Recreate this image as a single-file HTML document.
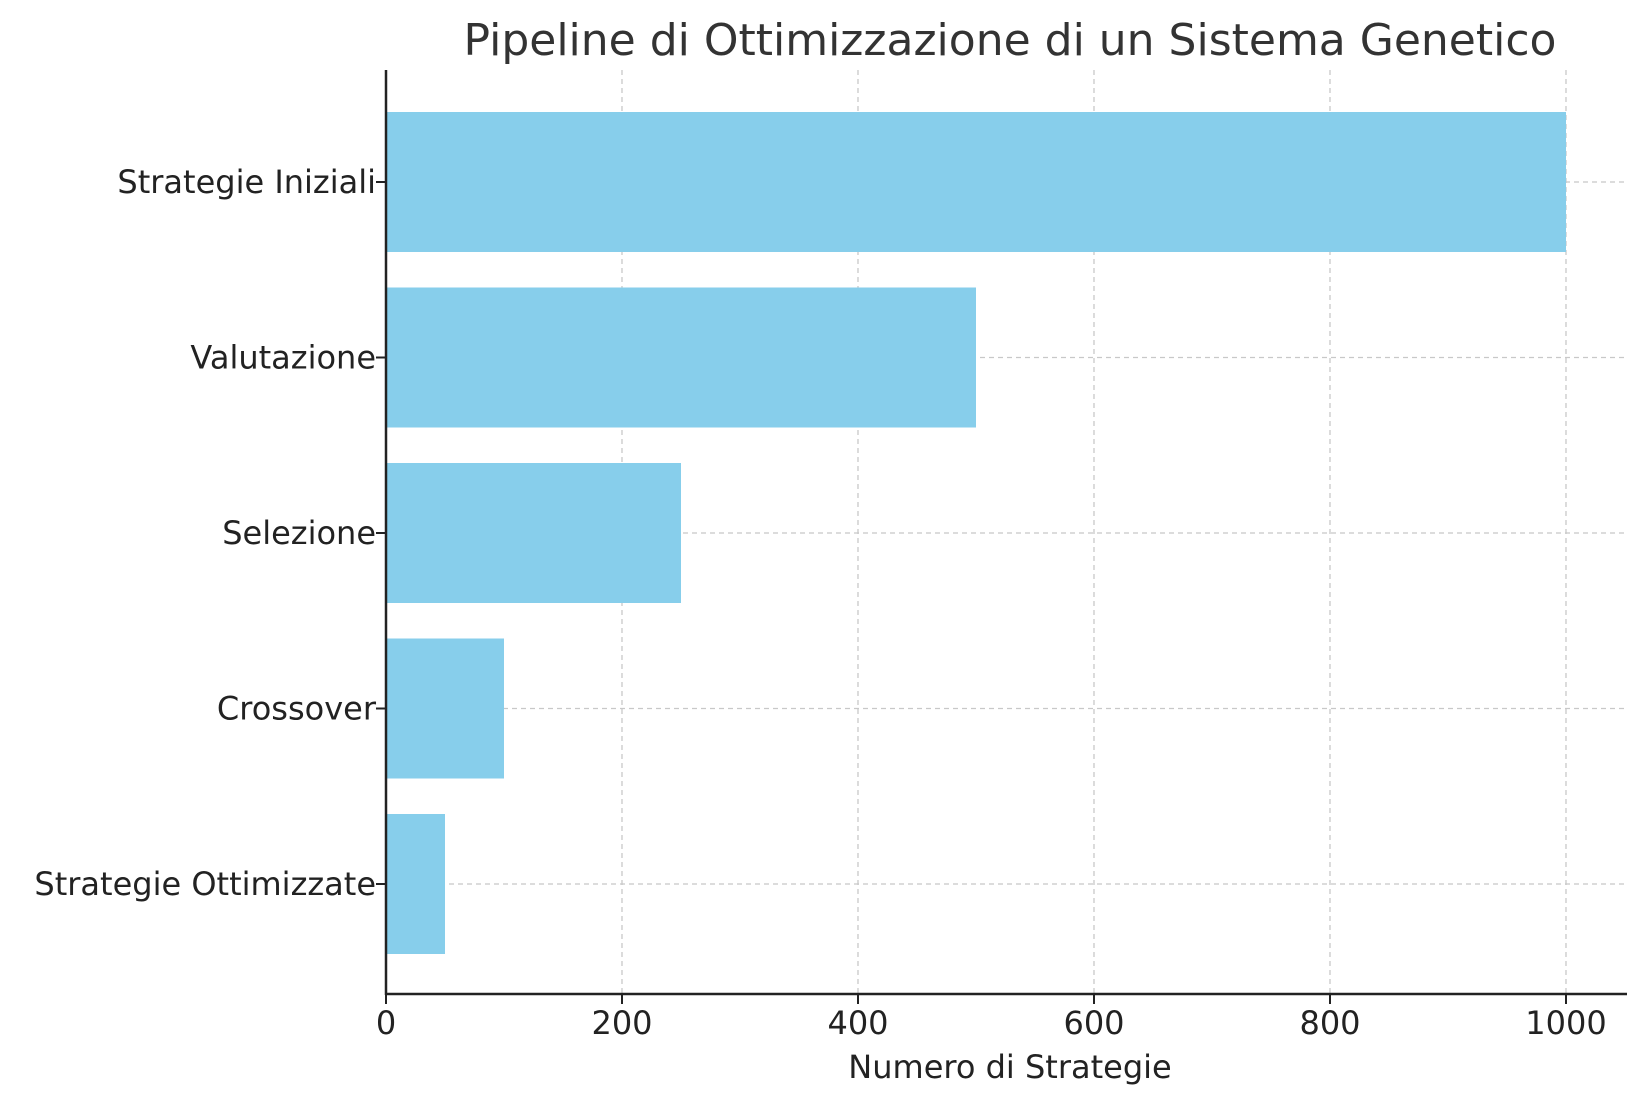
<!DOCTYPE html>
<html><head><meta charset="utf-8"><style>
html,body{margin:0;padding:0;background:#fff;}
svg{display:block;font-family:"DejaVu Sans","Liberation Sans",sans-serif;}
</style></head><body>
<svg id="chart" width="1645" height="1101">
<text x="1010" y="55" text-anchor="middle" font-size="44" fill="#333">Pipeline di Ottimizzazione di un Sistema Genetico</text>
<g id="grid"></g><g id="bars"></g><g id="axes"></g>
<text x="1010" y="1078" text-anchor="middle" font-size="32" fill="#222">Numero di Strategie</text>
</svg>
<script>
const categories = ["Strategie Iniziali","Valutazione","Selezione","Crossover","Strategie Ottimizzate"];
const values = [1000, 500, 250, 100, 50];
const xTicks = [0, 200, 400, 600, 800, 1000];
const NS="http://www.w3.org/2000/svg";
const x0=386, pxPerUnit=1.18, axTop=70, axBottom=994, axRight=1627;
const yTop=182, step=175.5, barH=140;
function xs(v){return x0+v*pxPerUnit;}
function yc(i){return yTop+i*step;}
function mk(tag,attrs,parent){const e=document.createElementNS(NS,tag);for(const k in attrs)e.setAttribute(k,attrs[k]);document.getElementById(parent).appendChild(e);return e;}
xTicks.forEach(t=>{
  const l=mk('line',{x1:xs(t),x2:xs(t),y1:axTop,y2:axBottom,stroke:'#c8c8c8','stroke-width':1.3,'stroke-dasharray':'5,4'},'grid');
  
  
  const tk=mk('line',{x1:xs(t),x2:xs(t),y1:axBottom,y2:axBottom+10,stroke:'#222','stroke-width':2},'axes');
  
  
  const tx=mk('text',{x:xs(t),y:axBottom+40,'text-anchor':'middle','font-size':32,fill:'#222'},'axes');
  tx.textContent=t;
  
  
});
categories.forEach((c,i)=>{
  const g=mk('line',{x1:x0,x2:axRight,y1:yc(i),y2:yc(i),stroke:'#c8c8c8','stroke-width':1.3,'stroke-dasharray':'5,4'},'grid');
  
  
  const r=mk('rect',{x:x0,y:yc(i)-barH/2,width:xs(values[i])-x0,height:barH,fill:'#87CEEB'},'bars');
  
  
  const tk=mk('line',{x1:x0-10,x2:x0,y1:yc(i),y2:yc(i),stroke:'#222','stroke-width':2},'axes');
  
  
  const tx=mk('text',{x:x0-10,y:yc(i)+11,'text-anchor':'end','font-size':32,fill:'#222'},'axes');
  tx.textContent=c;
  
  
});
const sl=mk('line',{x1:x0,x2:x0,y1:axTop,y2:axBottom+1,stroke:'#222','stroke-width':2.5},'axes');


const sb=mk('line',{x1:x0-1,x2:axRight,y1:axBottom,y2:axBottom,stroke:'#222','stroke-width':2.5},'axes');


</script>
</body></html>
